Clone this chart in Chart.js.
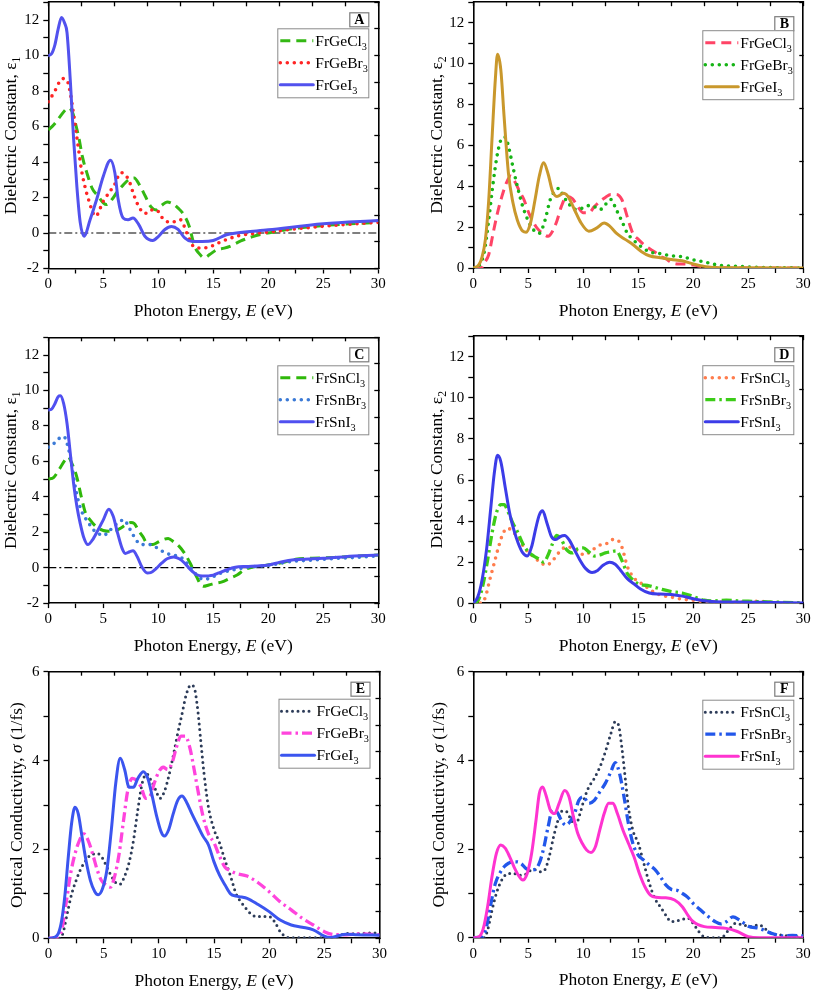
<!DOCTYPE html>
<html><head><meta charset="utf-8">
<script src="https://cdn.jsdelivr.net/npm/chart.js@4.4.1/dist/chart.umd.min.js"></script>
<style>
html,body{margin:0;padding:0;background:#fff;}
#wrap{position:relative;width:813px;height:992px;overflow:hidden;background:#fff;}
canvas{position:absolute;}
</style></head><body><div id="wrap">
<canvas id="cA"></canvas><canvas id="cB"></canvas><canvas id="cC"></canvas>
<canvas id="cD"></canvas><canvas id="cE"></canvas><canvas id="cF"></canvas>
</div>
<script>
// ---------------- DATA ----------------
const ZERO_E = [0, 30];
const ZERO_V = [0, 0];

// Panel A: epsilon1, Ge
const A_FrGeCl3_E = [0,0.5,1.0,1.5,1.8,2.2,2.5,2.8,3.1,3.5,4.0,4.5,5.0,5.3,5.8,6.3,6.8,7.3,7.8,8.3,8.8,9.3,9.8,10.3,10.8,11.3,11.8,12.3,12.8,13.3,13.7,14.2,14.7,15.3,16.0,16.5,17.5,18.5,19.5,20.5,22,25,30];
const A_FrGeCl3_V = [5.8,6.1,6.5,6.9,7.05,6.8,6.1,5.3,4.3,3.4,2.5,2.1,1.7,1.6,1.9,2.35,2.7,3.0,3.1,2.7,2.1,1.5,1.3,1.55,1.75,1.65,1.4,1.05,0.4,-0.75,-1.15,-1.4,-1.2,-0.95,-0.85,-0.75,-0.45,-0.22,-0.05,0.05,0.22,0.42,0.6];
const A_FrGeBr3_E = [0,0.6,1.0,1.3,1.7,2.0,2.2,2.5,2.8,3.0,3.3,3.6,4.3,5.0,5.5,6.0,6.6,7.3,7.8,8.3,8.8,9.3,9.8,10.5,11.2,12.0,12.6,13.2,14.0,14.8,15.5,16.3,17.3,18.5,20,22,25,28,30];
const A_FrGeBr3_V = [7.4,8.0,8.5,8.7,8.6,7.9,7.1,5.8,4.5,3.6,2.7,2.0,0.95,1.8,2.25,2.7,3.4,3.0,2.1,1.4,1.1,1.3,1.3,0.75,0.6,0.75,0.0,-0.75,-0.85,-0.75,-0.55,-0.35,-0.15,-0.05,0.05,0.2,0.38,0.52,0.6];
const A_FrGeI3_E = [0,0.3,0.6,0.9,1.2,1.5,1.7,2.0,2.3,2.6,2.9,3.25,3.8,4.4,5.0,5.65,6.05,6.35,6.8,7.25,7.7,8.2,8.8,9.5,10.0,10.6,11.2,11.8,12.4,13.0,14.0,15.0,16.2,17.1,20,25,30];
const A_FrGeI3_V = [10.0,10.1,10.6,11.5,12.15,11.8,11.3,8.6,5.3,2.6,0.6,-0.18,0.75,1.9,3.2,4.1,3.4,1.9,0.85,0.75,0.85,0.5,-0.2,-0.42,-0.2,0.2,0.37,0.2,-0.28,-0.47,-0.48,-0.42,-0.1,0.0,0.18,0.52,0.7];

// Panel B: epsilon2, Ge
const B_FrGeCl3_E = [0,0.7,1.0,1.4,1.8,2.2,2.6,3.0,3.4,3.8,4.2,4.6,5.0,5.4,5.8,6.3,6.8,7.2,7.6,8.0,8.5,9.0,9.5,10,10.5,11,11.5,12,12.5,13,13.5,14,14.5,15,15.5,16,16.5,17,17.5,18,18.5,19,20,21,22,30];
const B_FrGeCl3_V = [0,0,0.25,0.65,1.7,2.7,3.5,4.15,4.5,4.2,3.75,3.35,2.75,2.3,1.95,1.7,1.55,1.8,2.3,3.0,3.5,3.4,3.0,2.7,2.7,3.0,3.25,3.45,3.6,3.6,3.35,2.5,1.7,1.4,1.15,0.95,0.78,0.57,0.45,0.28,0.2,0.2,0.15,0.05,0.01,0];
const B_FrGeBr3_E = [0,0.5,1.0,1.4,1.8,2.2,2.6,2.9,3.2,3.6,4.0,4.5,5.0,5.5,6.0,6.5,7.0,7.5,7.8,8.2,8.6,9.0,9.5,10,10.5,11,11.5,12,12.5,13,13.5,14,14.5,15,16,17,18,19,20,21,22,23,24,25,27,30];
const B_FrGeBr3_V = [0,0.1,0.8,2.35,4.15,5.6,6.35,6.4,5.95,4.95,4.0,3.0,2.3,1.85,1.7,2.3,3.35,3.8,3.9,3.5,3.2,2.95,2.85,2.95,3.05,3.0,2.85,3.1,3.35,2.85,2.3,1.7,1.4,1.15,0.8,0.7,0.6,0.55,0.4,0.3,0.17,0.1,0.08,0.05,0.02,0];
const B_FrGeI3_E = [0,0.5,0.8,1.1,1.4,1.7,2.0,2.2,2.5,2.8,3.2,3.6,4.0,4.5,4.8,5.2,5.6,6.0,6.4,6.8,7.2,7.6,8.2,8.6,9.2,9.8,10.5,11.2,11.9,12.4,13.0,13.8,14.5,15.3,16,17,18,19,20,21,22,25,30];
const B_FrGeI3_V = [0,0.15,0.55,1.4,3.3,6.3,9.2,10.45,9.7,7.4,4.6,3.2,2.35,1.8,1.75,2.2,3.3,4.5,5.15,4.6,3.75,3.5,3.65,3.5,2.85,2.2,1.8,1.95,2.2,2.05,1.7,1.4,1.15,0.8,0.6,0.5,0.42,0.35,0.2,0.08,0.03,0.01,0];

// Panel C: epsilon1, Sn
const C_FrSnCl3_E = [0,0.5,1.0,1.5,1.8,2.2,2.6,3.0,3.4,3.8,4.2,4.6,5.0,5.5,6.0,6.5,7.0,7.5,7.8,8.2,8.6,9.0,9.5,10.0,10.5,10.9,11.4,11.9,12.4,12.9,13.4,13.8,14.1,14.6,15.2,15.8,16.5,17.2,17.8,18.5,19.5,20.5,21.5,22.5,24,26,28,30];
const C_FrSnCl3_V = [5.0,5.1,5.55,6.05,6.25,5.8,5.1,4.0,3.05,2.7,2.4,2.2,2.1,2.05,2.05,2.2,2.4,2.55,2.5,2.1,1.75,1.35,1.3,1.45,1.6,1.65,1.45,1.2,0.8,0.25,-0.4,-0.9,-1.05,-0.98,-0.88,-0.8,-0.6,-0.4,-0.13,0.02,0.1,0.2,0.32,0.47,0.53,0.58,0.65,0.71];
const C_FrSnBr3_E = [0,0.5,1.0,1.4,1.8,2.1,2.4,2.8,3.2,3.6,4.0,4.5,5.0,5.5,6.0,6.5,6.9,7.3,7.8,8.3,8.8,9.3,9.8,10.3,10.8,11.3,11.8,12.3,12.8,13.3,13.8,14.3,15,15.7,16.5,17.5,18.5,20,22,24,26,28,30];
const C_FrSnBr3_V = [6.8,7.0,7.3,7.4,6.8,5.9,4.75,3.6,2.95,2.6,2.2,1.95,1.8,2.05,2.35,2.6,2.7,2.3,1.75,1.35,1.3,1.3,1.15,0.95,0.8,0.7,0.65,0.47,0.1,-0.3,-0.6,-0.65,-0.5,-0.3,-0.17,-0.04,0.05,0.13,0.34,0.43,0.52,0.58,0.66];
const C_FrSnI3_E = [0,0.3,0.6,0.9,1.1,1.4,1.7,2.0,2.3,2.6,2.9,3.2,3.6,4.0,4.5,5.0,5.5,5.9,6.3,6.7,7.0,7.4,7.7,8.1,8.5,9.0,9.3,9.8,10.3,10.8,11.4,11.9,12.4,12.9,13.5,14,15,15.5,16.2,17,18,19,20,21,22,23,25,27,30];
const C_FrSnI3_V = [8.9,8.95,9.25,9.65,9.7,9.25,8.15,6.45,4.75,3.45,2.5,1.75,1.3,1.55,2.1,2.7,3.3,2.9,1.95,1.1,0.8,0.9,0.95,0.6,0.05,-0.3,-0.28,-0.05,0.25,0.5,0.6,0.5,0.25,-0.1,-0.4,-0.47,-0.42,-0.3,-0.13,0.02,0.07,0.1,0.15,0.3,0.42,0.47,0.53,0.62,0.71];

// Panel D: epsilon2, Sn
const D_FrSnCl3_E = [0,0.8,1.1,1.5,1.9,2.3,2.7,3.1,3.5,3.9,4.3,4.7,5.1,5.6,6.1,6.6,7.1,7.6,8.1,8.6,9.1,9.6,10.1,10.6,11.1,11.6,12.1,12.6,13.0,13.5,14,14.5,15,15.5,16,16.5,17,18,19,20,21,22,24,26,27,30];
const D_FrSnCl3_V = [0,0.02,0.3,1.15,1.95,2.75,3.4,3.65,3.55,3.3,3.0,2.65,2.45,2.2,2.0,1.85,2.0,2.35,2.65,2.75,2.65,2.5,2.35,2.5,2.7,2.85,2.9,3.1,3.1,2.75,1.8,1.3,1.05,0.9,0.68,0.52,0.4,0.3,0.2,0.15,0.08,0.07,0.05,0.1,0.05,0];
const D_FrSnBr3_E = [0,0.5,0.9,1.3,1.7,2.1,2.5,2.8,3.2,3.6,4.0,4.5,5.0,5.5,6.0,6.4,6.8,7.2,7.6,8.0,8.5,9.0,9.5,10,10.5,11,11.5,12,12.5,13,13.5,14,14.5,15,16,17,18,19,20,21,22,23,24,25,26,28,30];
const D_FrSnBr3_V = [0,0.2,0.95,2.1,3.4,4.4,4.8,4.8,4.4,3.9,3.5,2.9,2.5,2.3,2.15,2.0,2.35,2.9,3.3,3.1,2.6,2.45,2.65,2.7,2.5,2.3,2.35,2.45,2.5,2.55,2.1,1.45,1.15,0.95,0.85,0.7,0.57,0.5,0.33,0.15,0.12,0.15,0.12,0.1,0.08,0.05,0.02];
const D_FrSnI3_E = [0,0.4,0.8,1.2,1.6,1.9,2.2,2.5,2.9,3.3,3.7,4.1,4.5,4.9,5.3,5.7,6.0,6.3,6.7,7.1,7.5,7.9,8.3,8.7,9.2,9.7,10.2,10.8,11.3,11.8,12.4,12.9,13.4,14,14.6,15.2,16,17,18,19,20,21,22,24,26,30];
const D_FrSnI3_V = [0,0.3,1.15,2.6,4.7,6.3,7.2,6.9,5.65,4.4,3.55,2.9,2.45,2.3,2.75,3.7,4.3,4.5,3.9,3.25,3.1,3.25,3.3,3.1,2.6,2.1,1.7,1.5,1.6,1.85,2.0,1.9,1.6,1.2,0.95,0.7,0.5,0.45,0.43,0.35,0.22,0.12,0.08,0.06,0.05,0.02];

// Panel E: optical conductivity, Ge
const E_FrGeCl3_E = [0,1.0,1.3,1.7,2.1,2.5,2.9,3.3,3.7,4.1,4.5,4.9,5.3,5.7,6.1,6.5,6.9,7.3,7.7,8.1,8.5,8.9,9.3,9.7,10.1,10.5,10.9,11.3,11.7,12.1,12.5,12.9,13.2,13.5,13.8,14.1,14.5,15,15.5,16,16.5,17,17.5,18,18.5,19,19.5,20,20.5,21,21.5,22,25,26,27,28,29,30];
const E_FrGeCl3_V = [0,0,0.11,0.56,1.0,1.3,1.55,1.72,1.85,1.9,1.9,1.8,1.6,1.4,1.25,1.22,1.4,1.7,2.2,2.9,3.5,3.7,3.55,3.35,3.15,3.3,3.65,4.1,4.6,5.05,5.5,5.7,5.65,5.2,4.45,3.7,2.95,2.45,2.15,1.75,1.4,1.0,0.8,0.64,0.52,0.49,0.49,0.49,0.37,0.15,0.04,0.01,0.01,0.02,0.11,0.1,0.12,0.12];
const E_FrGeBr3_E = [0,0.8,1.2,1.6,2.0,2.4,2.8,3.2,3.6,4.0,4.4,4.8,5.2,5.6,6.0,6.4,6.8,7.2,7.6,8.0,8.4,8.8,9.2,9.6,10.0,10.4,10.8,11.2,11.6,12,12.4,12.8,13.2,13.6,14,14.5,15,15.5,16,16.5,17,18,19,20,21,22,23,24,25,26,27,28,30];
const E_FrGeBr3_V = [0,0.02,0.19,0.8,1.45,1.9,2.2,2.35,2.2,1.9,1.55,1.3,1.2,1.15,1.4,1.9,2.65,3.35,3.6,3.55,3.4,3.15,3.2,3.5,3.75,3.85,3.8,3.95,4.3,4.55,4.55,4.3,3.8,3.25,2.75,2.35,2.15,1.85,1.6,1.52,1.46,1.4,1.25,1.05,0.82,0.64,0.45,0.3,0.15,0.08,0.08,0.1,0.08];
const E_FrGeI3_E = [0,0.5,0.9,1.2,1.5,1.8,2.1,2.4,2.7,3.0,3.4,3.8,4.2,4.5,4.9,5.3,5.7,6.1,6.5,6.9,7.3,7.7,8.1,8.6,9.0,9.4,9.8,10.2,10.5,10.9,11.3,11.7,12.1,12.5,13,13.5,14,14.5,15,15.5,16,16.5,17,17.5,18,19,20,21,22,23,24,25,25.5,26,27,28,30];
const E_FrGeI3_V = [0,0.02,0.11,0.41,1.0,1.85,2.6,2.95,2.8,2.35,1.75,1.3,1.05,0.98,1.12,1.55,2.45,3.5,4.05,3.8,3.4,3.4,3.6,3.75,3.6,3.2,2.75,2.4,2.3,2.45,2.8,3.1,3.2,3.07,2.8,2.55,2.3,2.1,1.72,1.42,1.2,1.0,0.95,0.93,0.9,0.76,0.6,0.41,0.3,0.25,0.19,0.05,0.02,0.04,0.09,0.08,0.07];

// Panel F: optical conductivity, Sn
const F_FrSnCl3_E = [0,1.0,1.3,1.7,2.1,2.5,2.9,3.3,3.7,4.1,4.5,4.9,5.3,5.7,6.1,6.5,6.9,7.3,7.7,8.1,8.5,8.9,9.3,9.7,10.1,10.5,10.9,11.3,11.7,12.1,12.5,12.9,13.2,13.5,13.8,14.1,14.5,15,15.5,16,16.5,17,17.5,18,18.5,19,19.5,20,20.5,21,22,22.6,23.2,23.8,24.5,25.2,26,26.5,27,28,29,30];
const F_FrSnCl3_V = [0,0,0.17,0.62,1.0,1.26,1.41,1.45,1.45,1.41,1.41,1.45,1.53,1.53,1.49,1.53,1.83,2.28,2.65,2.86,2.84,2.65,2.54,2.8,3.14,3.4,3.55,3.74,3.97,4.27,4.6,4.87,4.8,4.3,3.63,2.95,2.43,2.13,1.68,1.23,0.89,0.7,0.51,0.36,0.38,0.41,0.44,0.32,0.14,0.02,0,0.01,0.17,0.32,0.29,0.25,0.29,0.21,0.11,0.06,0.03,0.02];
const F_FrSnBr3_E = [0,0.8,1.2,1.6,2.0,2.4,2.8,3.2,3.6,4.0,4.4,4.8,5.2,5.6,6.0,6.4,6.8,7.2,7.6,8.0,8.4,8.8,9.2,9.6,10,10.5,11,11.5,12,12.5,12.9,13.3,13.7,14.1,14.5,15,15.5,16,16.5,17,17.5,18,18.5,19,19.5,20,20.5,21,22,22.5,23,23.6,24.2,25,26,27,28,29,30];
const F_FrSnBr3_V = [0,0.02,0.25,0.77,1.22,1.45,1.6,1.68,1.71,1.71,1.66,1.56,1.53,1.54,1.68,2.02,2.5,2.88,2.84,2.65,2.54,2.62,2.8,3.1,3.18,3.03,3.1,3.29,3.48,3.74,3.95,3.7,3.18,2.58,2.13,1.86,1.75,1.64,1.54,1.38,1.19,1.09,1.07,1.0,0.91,0.77,0.66,0.55,0.36,0.31,0.36,0.47,0.4,0.26,0.21,0.11,0.04,0.05,0.04];
const F_FrSnI3_E = [0,0.5,0.9,1.3,1.7,2.1,2.5,2.9,3.3,3.7,4.1,4.5,4.9,5.3,5.7,6.0,6.3,6.6,7.0,7.4,7.8,8.3,8.7,9.1,9.5,9.9,10.3,10.7,11.1,11.5,11.9,12.3,12.7,13.1,13.6,14.1,14.6,15.1,15.6,16.1,16.6,17.5,18.3,19,19.5,20,21,22,23,24,25,26,30];
const F_FrSnI3_V = [0,0.02,0.2,0.7,1.38,1.9,2.09,2.02,1.83,1.6,1.41,1.3,1.45,1.9,2.65,3.25,3.4,3.22,2.88,2.8,3.03,3.32,3.18,2.73,2.35,2.13,1.98,1.92,2.05,2.43,2.8,3.03,3.03,2.8,2.43,2.13,1.83,1.45,1.15,0.96,0.91,0.9,0.85,0.7,0.51,0.36,0.25,0.23,0.21,0.14,0.02,0,0];

// ---------------- STYLE / LAYOUT ----------------
const FONT = '"Liberation Serif", "Times New Roman", Times, serif';
Chart.defaults.font.family = FONT;

const DASHED = {dash:[10,6], width:3, cap:'butt'};
const DOTTED = {dash:[0,7], width:3.6, cap:'round'};
const DOTTED_FINE = {dash:[0,5.5], width:3, cap:'round'};
const DASHDOT = {dash:[10,4,2.5,4], width:3.3, cap:'butt'};
const SOLID = {dash:[], width:3, cap:'round'};

const T_EPS1 = [{t:'Dielectric Constant, ε'},{t:'1',sub:true}];
const T_EPS2 = [{t:'Dielectric Constant, ε'},{t:'2',sub:true}];
const T_SIG  = [{t:'Optical Conductivity, '},{t:'σ',italic:true},{t:' (1/fs)'}];
const T_X    = [{t:'Photon Energy, '},{t:'E',italic:true},{t:' (eV)'}];

const panels = [
  {id:'cA', letter:'A', cx:0, cy:0, w:405, h:330, area:{l:48.3,t:2.3,r:378.3,b:268.5},
   yMin:-2, yMax:13, yStep:1, yLabelStep:2, y2Step:1.5, zero:true, yTitle:T_EPS1, yOff:38, lblOff:10, lgOff:26,
   series:[{name:'FrGeCl3',E:A_FrGeCl3_E,V:A_FrGeCl3_V,color:'#34b814',style:DASHED},
           {name:'FrGeBr3',E:A_FrGeBr3_E,V:A_FrGeBr3_V,color:'#ff2424',style:DOTTED},
           {name:'FrGeI3', E:A_FrGeI3_E, V:A_FrGeI3_V, color:'#5252ee',style:SOLID}]},
  {id:'cB', letter:'B', cx:405, cy:0, w:408, h:330, area:{l:473.3,t:2.2,r:803.3,b:268},
   yMin:0, yMax:13, yStep:1, yLabelStep:2, y2Step:2.6, zero:false, yTitle:T_EPS2, yOff:37, lblOff:14, lgOff:28,
   series:[{name:'FrGeCl3',E:B_FrGeCl3_E,V:B_FrGeCl3_V,color:'#ff4466',style:DASHED},
           {name:'FrGeBr3',E:B_FrGeBr3_E,V:B_FrGeBr3_V,color:'#16b416',style:DOTTED},
           {name:'FrGeI3', E:B_FrGeI3_E, V:B_FrGeI3_V, color:'#c9982c',style:SOLID}]},
  {id:'cC', letter:'C', cx:0, cy:318, w:405, h:340, area:{l:48.3,t:337.3,r:378.3,b:603.1},
   yMin:-2, yMax:13, yStep:1, yLabelStep:2, y2Step:1.5, zero:true, yTitle:T_EPS1, yOff:38, lblOff:10, lgOff:28,
   series:[{name:'FrSnCl3',E:C_FrSnCl3_E,V:C_FrSnCl3_V,color:'#2fb80a',style:DASHED},
           {name:'FrSnBr3',E:C_FrSnBr3_E,V:C_FrSnBr3_V,color:'#3b7ad6',style:DOTTED},
           {name:'FrSnI3', E:C_FrSnI3_E, V:C_FrSnI3_V, color:'#5050f0',style:SOLID}]},
  {id:'cD', letter:'D', cx:405, cy:318, w:408, h:340, area:{l:473.3,t:336.2,r:803.3,b:603.3},
   yMin:0, yMax:13, yStep:1, yLabelStep:2, y2Step:2.6, zero:false, yTitle:T_EPS2, yOff:37, lblOff:11, lgOff:29,
   series:[{name:'FrSnCl3',E:D_FrSnCl3_E,V:D_FrSnCl3_V,color:'#ff7c4c',style:DOTTED},
           {name:'FrSnBr3',E:D_FrSnBr3_E,V:D_FrSnBr3_V,color:'#3ccc18',style:DASHDOT},
           {name:'FrSnI3', E:D_FrSnI3_E, V:D_FrSnI3_V, color:'#3c3ce8',style:SOLID}]},
  {id:'cE', letter:'E', cx:0, cy:655, w:405, h:337, area:{l:48.5,t:671.7,r:379.5,b:938.3},
   yMin:0, yMax:6, yStep:1, yLabelStep:2, y2Step:0.6, zero:false, yTitle:T_SIG, yOff:32, lblOff:10, lgOff:27,
   series:[{name:'FrGeCl3',E:E_FrGeCl3_E,V:E_FrGeCl3_V,color:'#2c3b58',style:DOTTED_FINE},
           {name:'FrGeBr3',E:E_FrGeBr3_E,V:E_FrGeBr3_V,color:'#ff44dd',style:DASHDOT},
           {name:'FrGeI3', E:E_FrGeI3_E, V:E_FrGeI3_V, color:'#3b55ef',style:SOLID}]},
  {id:'cF', letter:'F', cx:405, cy:655, w:408, h:337, area:{l:473.3,t:671.7,r:803.3,b:937.7},
   yMin:0, yMax:6, yStep:1, yLabelStep:2, y2Step:0.6, zero:false, yTitle:T_SIG, yOff:35, lblOff:10, lgOff:28,
   series:[{name:'FrSnCl3',E:F_FrSnCl3_E,V:F_FrSnCl3_V,color:'#2c3b58',style:DOTTED_FINE},
           {name:'FrSnBr3',E:F_FrSnBr3_E,V:F_FrSnBr3_V,color:'#2257ea',style:DASHDOT},
           {name:'FrSnI3', E:F_FrSnI3_E, V:F_FrSnI3_V, color:'#ff33d0',style:SOLID}]}
];

// ---------------- HELPERS ----------------
function mkData(E, V){ return E.map((e,i)=>({x:e, y:V[i]})); }
function fontFor(p, size){ const s = p.sub ? size*0.66 : size; return (p.bold?'bold ':'') + (p.italic?'italic ':'') + s + 'px ' + FONT; }
function richWidth(ctx, parts, size){ let w=0; for(const p of parts){ ctx.font=fontFor(p,size); w+=ctx.measureText(p.t).width; } return w; }
function drawRich(ctx, parts, x, yMid, size, align){
  const w = richWidth(ctx, parts, size);
  let cx = align==='center' ? x - w/2 : x;
  const base = yMid + size*0.33;
  ctx.textAlign='left'; ctx.textBaseline='alphabetic'; ctx.fillStyle='#000';
  for(const p of parts){ ctx.font=fontFor(p,size); ctx.fillText(p.t, cx, base + (p.sub ? size*0.24 : 0)); cx += ctx.measureText(p.t).width; }
}
function nameParts(n){ return [{t:n.slice(0,-1)},{t:n.slice(-1),sub:true}]; }

const decor = {
  id:'decor',
  afterDraw(chart){
    const p = chart.options.plugins.decor.panel;
    const ctx = chart.ctx, ca = chart.chartArea;
    ctx.save();
    // panel letter box
    const lbW=19, lbH=14, lbL = ca.right - 10 - lbW, lbT = ca.top + p.lblOff;
    ctx.fillStyle='#fff'; ctx.fillRect(lbL, lbT, lbW, lbH);
    ctx.strokeStyle='#7c7c7c'; ctx.lineWidth=1.2; ctx.strokeRect(lbL+0.5, lbT+0.5, lbW, lbH);
    ctx.fillStyle='#000'; ctx.font='bold 14px '+FONT; ctx.textAlign='center'; ctx.textBaseline='middle';
    ctx.fillText(p.letter, lbL+lbW/2+0.5, lbT+lbH/2+1);
    // legend box
    const lgW=91, lgH=69, lgL = ca.right - 10 - lgW, lgT = ca.top + p.lgOff;
    ctx.fillStyle='#fff'; ctx.fillRect(lgL, lgT, lgW, lgH);
    ctx.strokeStyle='#8a8a8a'; ctx.lineWidth=1; ctx.strokeRect(lgL+0.5, lgT+0.5, lgW, lgH);
    p.series.forEach((s,i)=>{
      const y = lgT + 12.5 + i*22;
      ctx.save();
      ctx.strokeStyle=s.color; ctx.lineWidth=s.style.width; ctx.setLineDash(s.style.dash); ctx.lineCap=s.style.cap;
      ctx.beginPath(); ctx.moveTo(lgL+3, y); ctx.lineTo(lgL+36, y); ctx.stroke();
      ctx.restore();
      drawRich(ctx, nameParts(s.name), lgL+38, y, 15.5, 'left');
    });
    // axis titles
    drawRich(ctx, T_X, (ca.left+ca.right)/2, ca.bottom + 42, 17.5, 'center');
    ctx.translate(ca.left - p.yOff, (ca.top+ca.bottom)/2);
    ctx.rotate(-Math.PI/2);
    drawRich(ctx, p.yTitle, 0, 0, 17.5, 'center');
    ctx.restore();
  }
};

function zeroPad(s){ s.paddingTop=0; s.paddingBottom=0; s.paddingLeft=0; s.paddingRight=0; }

panels.forEach(p=>{
  const cv = document.getElementById(p.id);
  cv.width=p.w; cv.height=p.h;
  Object.assign(cv.style,{left:p.cx+'px', top:p.cy+'px', width:p.w+'px', height:p.h+'px'});
  const a = {l:p.area.l-p.cx, r:p.area.r-p.cx, t:p.area.t-p.cy, b:p.area.b-p.cy};
  const n = p.series.length;
  const datasets = p.series.map((s,i)=>({
    label:s.name, data:mkData(s.E,s.V), borderColor:s.color, backgroundColor:s.color,
    borderWidth:s.style.width, borderDash:s.style.dash, borderCapStyle:s.style.cap, borderJoinStyle:'round',
    pointRadius:0, fill:false, cubicInterpolationMode:'monotone', order:n-1-i
  }));
  if(p.zero){
    datasets.push({label:'', data:mkData(ZERO_E,ZERO_V), borderColor:'#000', borderWidth:1.2,
      borderDash:[8,3,2,3], pointRadius:0, fill:false, order:10});
  }
  const tickFont = {family:FONT, size:15};
  const border = {display:true, color:'#000', width:1.6};
  new Chart(cv, {
    type:'line',
    data:{datasets},
    plugins:[decor],
    options:{
      responsive:false, animation:false, devicePixelRatio:1,
      layout:{padding:0},
      plugins:{legend:{display:false}, tooltip:{enabled:false}, title:{display:false}, decor:{panel:p}},
      scales:{
        x:{type:'linear', position:'bottom', min:0, max:30,
           ticks:{stepSize:2.5, autoSkip:false, maxRotation:0, minRotation:0, padding:2, color:'#000', font:tickFont,
                  callback:v=> (Math.abs(v%5)<1e-6 ? String(v) : '')},
           grid:{drawOnChartArea:false, drawTicks:true, tickLength:5, color:'#000', tickWidth:1.3},
           border, afterFit:s=>{ s.height = p.h - a.b; zeroPad(s); }},
        x2:{type:'linear', position:'top', min:0, max:30, display:true,
           ticks:{display:false, stepSize:3},
           grid:{drawOnChartArea:false, drawTicks:true, tickLength:-4, color:'#000', tickWidth:1.3},
           border, afterFit:s=>{ s.height = a.t; zeroPad(s); }},
        y:{type:'linear', position:'left', min:p.yMin, max:p.yMax,
           ticks:{stepSize:p.yStep, autoSkip:false, padding:4, color:'#000', font:tickFont,
                  callback:v=> (Math.abs(v%p.yLabelStep)<1e-6 && v<=12 ? String(v) : '')},
           grid:{drawOnChartArea:false, drawTicks:true, tickLength:5, color:'#000', tickWidth:1.3},
           border, afterFit:s=>{ s.width = a.l; zeroPad(s); }},
        y2:{type:'linear', position:'right', min:p.yMin, max:p.yMax, display:true,
           ticks:{display:false, stepSize:p.y2Step},
           grid:{drawOnChartArea:false, drawTicks:true, tickLength:-4, color:'#000', tickWidth:1.3},
           border, afterFit:s=>{ s.width = p.w - a.r; zeroPad(s); }}
      }
    }
  });
});
</script>
</body></html>
